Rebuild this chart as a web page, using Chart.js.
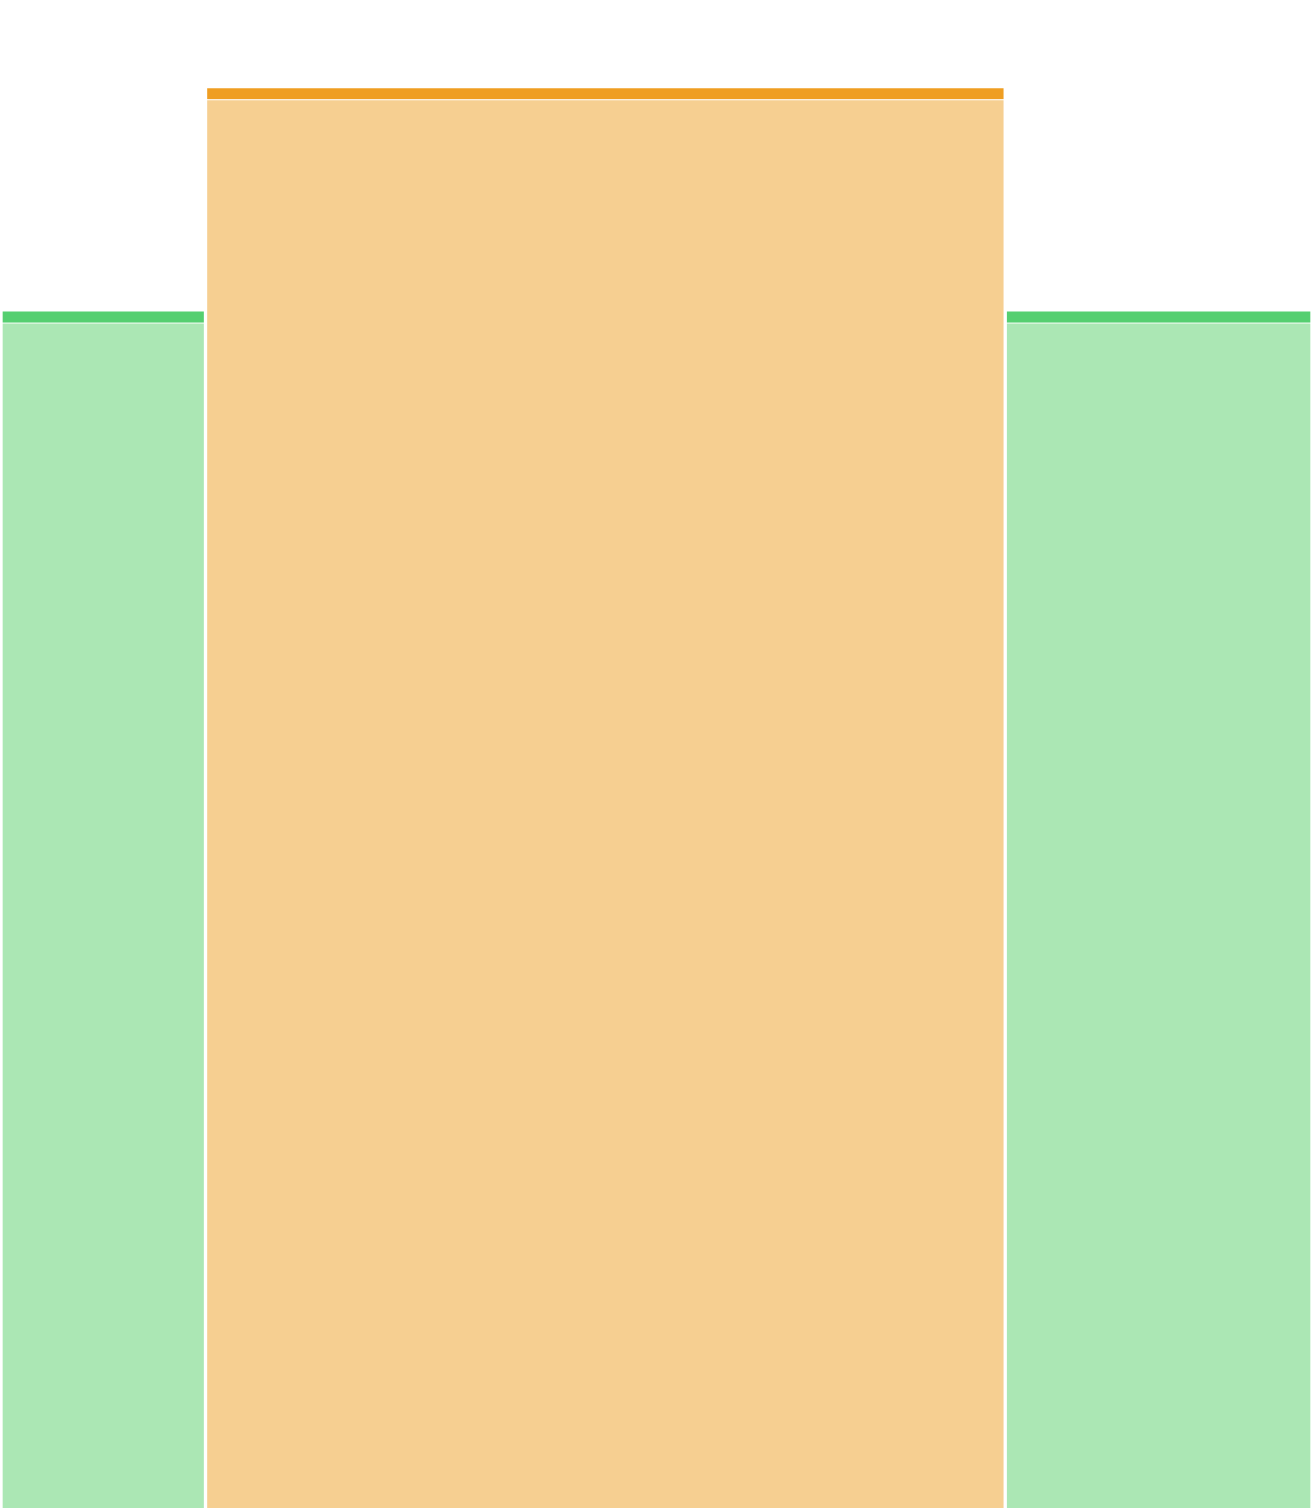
<!DOCTYPE html>
<html>
<head>
<meta charset="utf-8">
<title>Variable width bars</title>
<script src="https://cdn.jsdelivr.net/npm/chart.js@4/dist/chart.umd.min.js"></script>
<style>
    html, body { margin: 0; padding: 0; background: #ffffff; }
    #wrap { width: 1312px; height: 1508px; }
</style>
</head>
<body>
<div id="wrap"><canvas id="chart"></canvas></div>
<script>
// segments, their share of the width and their heights
var segments = ['Segment A', 'Segment B', 'Segment C'];
var shareWidths = [15.6, 61.0, 23.4];
var baseValues = [78.6, 93.4, 78.6];
var capValues = [0.75, 0.75, 0.75];
var yMax = 100;

var fillColors = ['#abe7b4', '#f6cf91', '#abe7b4'];
var capColors = ['#55cf70', '#ef9e22', '#55cf70'];

function segmentStart(i) {
    var s = 0;
    for (var k = 0; k < i; k++) {
        s += shareWidths[k];
    }
    return s;
}

// bar thickness comes from the x scale, so the width follows the data
function thicknessFor(i) {
    return function (ctx) {
        var xs = ctx.chart.scales.x;
        var x0 = segmentStart(i);
        return xs.getPixelForValue(x0 + shareWidths[i]) - xs.getPixelForValue(x0);
    };
}

var datasets = [];
for (var i = 0; i < segments.length; i++) {
    var center = segmentStart(i) + shareWidths[i] / 2;
    datasets.push({
        label: segments[i],
        data: [{x: center, y: baseValues[i]}],
        backgroundColor: fillColors[i],
        borderColor: '#ffffff',
        borderWidth: {top: 1, left: 2, right: 2, bottom: 0},
        barThickness: thicknessFor(i),
        grouped: false,
        stack: 's' + i
    });
    datasets.push({
        label: segments[i] + ' top',
        data: [{x: center, y: capValues[i]}],
        backgroundColor: capColors[i],
        borderColor: '#ffffff',
        borderWidth: {top: 0, left: 2, right: 2, bottom: 0},
        barThickness: thicknessFor(i),
        grouped: false,
        stack: 's' + i
    });
}

var ctx = document.getElementById('chart');
var myChart = new Chart(ctx, {
    type: 'bar',
    data: {datasets: datasets},
    options: {
        responsive: true,
        maintainAspectRatio: false,
        animation: false,
        layout: {padding: {left: 1, right: 0, top: 0, bottom: 0}},
        plugins: {
            legend: {display: false},
            tooltip: {enabled: false}
        },
        scales: {
            x: {
                type: 'linear',
                min: 0,
                max: 100,
                offset: false,
                display: false
            },
            y: {
                stacked: true,
                min: 0,
                max: yMax,
                display: false
            }
        }
    }
});
</script>
</body>
</html>
